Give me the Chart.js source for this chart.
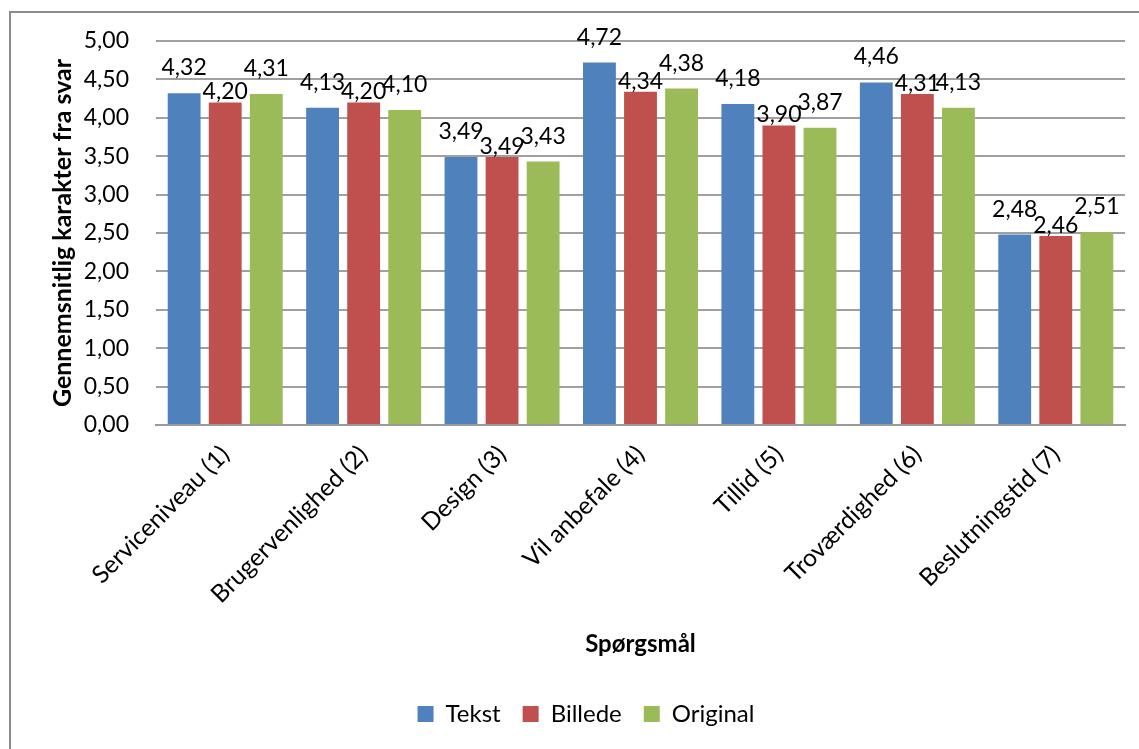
<!DOCTYPE html>
<html>
<head>
<meta charset="utf-8">
<style>
  html, body { margin: 0; padding: 0; background: #ffffff; }
  #wrap { position: relative; width: 1139px; height: 749px; }
</style>
<script src="https://cdn.jsdelivr.net/npm/chart.js@4.4.1/dist/chart.umd.min.js"></script>
</head>
<body>
<div id="wrap"><canvas id="chart" width="1139" height="749"></canvas></div>
<script>
// Spørgsmål (categories)
const categories = [
  'Serviceniveau (1)',
  'Brugervenlighed (2)',
  'Design (3)',
  'Vil anbefale (4)',
  'Tillid (5)',
  'Troværdighed (6)',
  'Beslutningstid (7)'
];

// Gennemsnitlig karakter per variant
const tekst    = [4.32, 4.13, 3.49, 4.72, 4.18, 4.46, 2.48];
const billede  = [4.20, 4.20, 3.49, 4.34, 3.90, 4.31, 2.46];
const original = [4.31, 4.10, 3.43, 4.38, 3.87, 4.13, 2.51];

// Y axis ticks
const yTicks = [0, 0.5, 1, 1.5, 2, 2.5, 3, 3.5, 4, 4.5, 5];

const FONT = 'Lato, "Open Sans", sans-serif';
const fmt = v => v.toFixed(2).replace('.', ',');

// Frame around the chart (left and top edges)
const framePlugin = {
  id: 'frame',
  beforeDraw(chart) {
    const ctx = chart.ctx;
    ctx.save();
    ctx.strokeStyle = '#8c8c8c';
    ctx.lineWidth = 2;
    ctx.beginPath();
    ctx.moveTo(10, chart.height);
    ctx.lineTo(10, 12);
    ctx.lineTo(chart.width, 12);
    ctx.stroke();
    ctx.restore();
  }
};

// Value labels above each bar
const valueLabels = {
  id: 'valueLabels',
  afterDatasetsDraw(chart) {
    const ctx = chart.ctx;
    ctx.save();
    ctx.font = '23px ' + FONT;
    ctx.fillStyle = '#000000';
    ctx.textAlign = 'center';
    ctx.textBaseline = 'alphabetic';
    chart.data.datasets.forEach((ds, i) => {
      const meta = chart.getDatasetMeta(i);
      if (meta.hidden) return;
      meta.data.forEach((bar, j) => {
        ctx.fillText(fmt(ds.data[j]), bar.x, bar.y - ds.labelGap);
      });
    });
    ctx.restore();
  }
};

new Chart(document.getElementById('chart'), {
  type: 'bar',
  data: {
    labels: categories,
    datasets: [
      { label: 'Tekst',    data: tekst,    backgroundColor: '#4F81BD', labelGap: 18 },
      { label: 'Billede',  data: billede,  backgroundColor: '#C0504D', labelGap: 3 },
      { label: 'Original', data: original, backgroundColor: '#9BBB59', labelGap: 18 }
    ]
  },
  options: {
    responsive: false,
    animation: false,
    devicePixelRatio: 1,
    categoryPercentage: 0.89,
    barPercentage: 0.8,
    layout: { padding: { left: 47, right: 14, top: 41, bottom: 13 } },
    plugins: {
      legend: {
        position: 'bottom',
        labels: {
          font: { family: FONT, size: 24 },
          color: '#000000',
          boxWidth: 16,
          boxHeight: 16,
          padding: 22
        }
      },
      tooltip: { enabled: false }
    },
    scales: {
      x: {
        grid: { display: false, drawTicks: false },
        border: { display: true, color: '#9a9a9a', width: 2 },
        ticks: {
          font: { family: FONT, size: 24.5 },
          color: '#000000',
          maxRotation: 45,
          minRotation: 45,
          padding: 15
        },
        title: {
          display: true,
          text: 'Spørgsmål',
          font: { family: FONT, size: 24, weight: 'bold' },
          color: '#000000',
          padding: { top: 0, bottom: 21 }
        },
        afterFit(scale) { scale.height = 255; }
      },
      y: {
        min: 0,
        max: 5,
        afterBuildTicks(scale) { scale.ticks = yTicks.map(v => ({ value: v })); },
        grid: { color: '#a0a0a0', lineWidth: 2, drawTicks: false },
        border: { display: false },
        ticks: {
          font: { family: FONT, size: 23 },
          color: '#000000',
          padding: 27,
          callback: v => fmt(v)
        },
        title: {
          display: true,
          text: 'Gennemsnitlig karakter fra svar',
          font: { family: FONT, size: 25, weight: 'bold' },
          color: '#000000',
          padding: { top: 1, bottom: 0 }
        },
        afterFit(scale) { scale.width = 109; }
      }
    }
  },
  plugins: [framePlugin, valueLabels]
});
</script>
</body>
</html>
